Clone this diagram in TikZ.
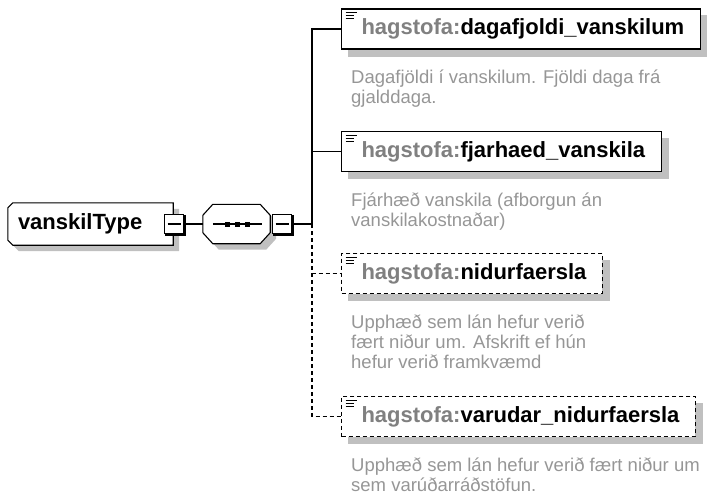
\documentclass[tikz,border=0pt]{standalone}
\usepackage{fontspec}
\setmainfont{Liberation Sans}
\usetikzlibrary{backgrounds,positioning}
\definecolor{prefixgray}{RGB}{128,128,128}
\definecolor{notegray}{RGB}{150,150,150}
\definecolor{shadowgray}{RGB}{192,192,192}
\newcommand{\pfx}{\textcolor{prefixgray}{hagstofa:}}
\begin{document}
\begin{tikzpicture}[x=1pt,y=-1pt]
\tikzstyle{link} = [line width=1.1pt];
\tikzstyle{optional} = [dash pattern=on 4pt off 3pt];
\tikzstyle{shadowfill} = [fill=shadowgray];
\tikzstyle{outline} = [draw, line width=1.1pt, fill=white];
\tikzstyle{typebox} = [minimum width=165pt, minimum height=42pt, text width=145pt, align=left, inner xsep=10pt, inner ysep=0pt, font=\fontsize{22}{26}\selectfont\bfseries];
\tikzstyle{seqbox} = [minimum width=67pt, minimum height=39pt, inner sep=0pt];
\tikzstyle{minus} = [draw, line width=1.1pt, fill=white, minimum size=19pt, inner sep=0pt,
  path picture={\draw[line width=1.1pt] ([xshift=3pt]path picture bounding box.west) -- ([xshift=-3pt]path picture bounding box.east);}];
\tikzstyle{elem} = [draw, line width=1.1pt, fill=white, minimum height=40pt, inner xsep=16pt, anchor=west, font=\fontsize{22}{26}\selectfont\bfseries, execute at begin node=\hspace*{4pt},
  path picture={
    \foreach \w/\d in {11/4,8/7,8/10}
      \draw[solid, line width=1pt] ([xshift=4pt,yshift=-\d pt]path picture bounding box.north west) -- ++(\w,0);
  }];
\tikzstyle{note} = [anchor=north west, align=left, inner sep=0pt, text=notegray, font=\fontsize{18.5}{20}\selectfont];

\useasboundingbox (0,0) rectangle (707,495);

% complex type and its sequence
\node[typebox] (vanskil) at (90.5,224) {vanskilType};
\node[minus] (vm) at (174,224) {};
\node[seqbox] (seq) at (236.5,224) {};
\node[minus] (sm) at (282,224) {};
\coordinate (fork) at (312,224);
\draw[link] ([shift={(10,0)}]seq.west) -- ([shift={(-8,0)}]seq.east);
\foreach \dx in {-10,0,10}
  \fill ([shift={(\dx+0.5,0)}]seq.center) +(-2.5,-2.5) rectangle +(2.5,2.5);
\foreach \m in {vm,sm}
  \draw[line width=2.2pt] ([shift={(0.6,1)}]\m.north east) -- ([shift={(0.6,0.6)}]\m.south east) -- ([shift={(1,0.6)}]\m.south west);

% child elements
\node[elem] (e1) at (341,29) {\pfx dagafjoldi\_vanskilum};
\node[elem] (e2) at (341,151.5) {\pfx fjarhaed\_vanskila};
\node[elem, optional] (e3) at (341,273.5) {\pfx nidurfaersla};
\node[elem, optional] (e4) at (341,416.5) {\pfx varudar\_nidurfaersla};

\node[note] (n1) at ([shift={(10,20.5)}]e1.south west) {Dagafjöldi í vanskilum. Fjöldi daga frá\\gjalddaga.};
\node[note] (n2) at ([shift={(10,20.5)}]e2.south west) {Fjárhæð vanskila (afborgun án\\vanskilakostnaðar)};
\node[note] (n3) at ([shift={(10,20.5)}]e3.south west) {Upphæð sem lán hefur verið\\fært niður um. Afskrift ef hún\\hefur verið framkvæmd};
\node[note] (n4) at ([shift={(10,20.5)}]e4.south west) {Upphæð sem lán hefur verið fært niður um\\sem varúðarráðstöfun.};

\draw[link] (vm.east) -- (seq.west);
\draw[link] (sm.east) -- (fork);
\draw[link] (fork) |- (e1.west);
\draw[link] (fork) |- (e2.west);
\draw[link, optional] (fork) |- (e3.west);
\draw[link, optional] (fork) |- (e4.west);

% shadows and cut-corner outlines
\begin{scope}[on background layer]
\foreach \e in {e1,e2,e3,e4}
  \fill[shadowgray] ([shift={(7,7)}]\e.north west) rectangle ([shift={(7,7)}]\e.south east);
\foreach \o/\s in {6/shadowfill,0/outline} {
  \path[\s] ([shift={(\o+5,\o)}]vanskil.north west) -- ([shift={(\o,\o)}]vanskil.north east)
    -- ([shift={(\o,\o)}]vanskil.south east) -- ([shift={(\o+5,\o)}]vanskil.south west)
    -- ([shift={(\o,\o-5)}]vanskil.south west) -- ([shift={(\o,\o+5)}]vanskil.north west) -- cycle;
  \path[\s] ([shift={(\o+10,\o)}]seq.north west) -- ([shift={(\o-10,\o)}]seq.north east)
    -- ([shift={(\o,\o+11)}]seq.north east) -- ([shift={(\o,\o-11)}]seq.south east)
    -- ([shift={(\o-10,\o)}]seq.south east) -- ([shift={(\o+10,\o)}]seq.south west)
    -- ([shift={(\o,\o-11)}]seq.south west) -- ([shift={(\o,\o+11)}]seq.north west) -- cycle;
}
\end{scope}
\end{tikzpicture}
\end{document}
